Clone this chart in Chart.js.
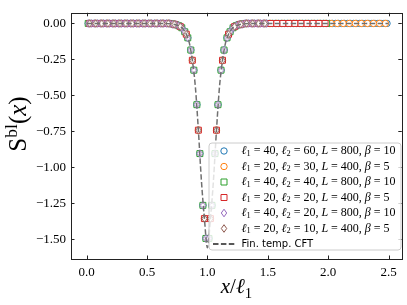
<!DOCTYPE html>
<html>
<head>
<meta charset="utf-8">
<script src="https://cdn.jsdelivr.net/npm/chart.js@4.4.1/dist/chart.umd.min.js"></script>
<style>
  html, body { margin: 0; padding: 0; background: #fff; }
  #wrap { width: 407px; height: 305px; }
</style>
</head>
<body>
<div id="wrap"><canvas id="chart" width="407" height="305"></canvas></div>
<script>
// Series parameters
const l1Vals = [40, 20, 40, 20, 40, 20];
const l2Vals = [60, 30, 40, 20, 20, 10];
const LVals = [800, 400, 800, 400, 800, 400];
const betaVals = [10, 5, 10, 5, 10, 5];
const seriesColors = ['#1f77b4', '#ff7f0e', '#2ca02c', '#d62728', '#9467bd', '#8c564b'];
const seriesMarkers = ['circle', 'circle', 'rect', 'rect', 'diamond', 'diamond'];

// S^bl, lattice with l1 = 40 (sites x = (j + 1/2) / 40)
const s40 = [
    0, 0, 0, 0, 0, 0, 0, 0, 0, 0,
    0, 0, 0, 0, 0, 0, 0, 0, 0, 0,
    0, 0, 0, 0, 0, 0, 0, 0,
    -0.004, -0.008, -0.016, -0.030, -0.058, -0.100, -0.185, -0.325, -0.565, -0.905, -1.265, -1.495,
    -1.495, -1.265, -0.905, -0.565, -0.325, -0.185, -0.100, -0.058, -0.030, -0.016, -0.008, -0.004,
    0, 0, 0, 0, 0, 0, 0, 0, 0, 0,
    0, 0, 0, 0, 0, 0, 0, 0, 0, 0,
    0, 0, 0, 0, 0, 0, 0, 0, 0, 0,
    0, 0, 0, 0, 0, 0, 0, 0, 0, 0,
    0, 0, 0, 0, 0, 0, 0, 0
];

// same for l1 = 20 (sites x = (j + 1/2) / 20)
const s20 = [
    0, 0, 0, 0, 0, 0, 0, 0, 0, 0,
    0, 0, 0, 0,
    -0.006, -0.022, -0.075, -0.256, -0.742, -1.357,
    -1.357, -0.742, -0.256, -0.075, -0.022, -0.006,
    0, 0, 0, 0, 0, 0, 0, 0, 0, 0,
    0, 0, 0, 0, 0, 0, 0, 0, 0, 0,
    0, 0, 0, 0
];

// finite temperature CFT curve
const cftX = [0, 0.5, 0.65, 0.7, 0.75, 0.775, 0.8, 0.825, 0.85, 0.875,
              0.9, 0.925, 0.95, 0.975, 1.0, 1.025, 1.05, 1.075, 1.1, 1.125,
              1.15, 1.175, 1.2, 1.225, 1.25, 1.3, 1.35, 1.5, 2.0, 2.5];
const cftY = [0, 0, -0.001, -0.003, -0.012, -0.022, -0.04, -0.075, -0.135, -0.256,
              -0.44, -0.742, -1.09, -1.357, -1.56, -1.357, -1.09, -0.742, -0.44, -0.256,
              -0.135, -0.075, -0.04, -0.022, -0.012, -0.003, -0.001, 0, 0, 0];

const xTicks = [0, 0.5, 1.0, 1.5, 2.0, 2.5];
const yTicks = [0, -0.25, -0.5, -0.75, -1.0, -1.25, -1.5];

const serif = "'Liberation Serif', 'DejaVu Serif', serif";
const sans = "'DejaVu Sans', sans-serif";

// thin diamond marker (matplotlib 'd') as a small canvas, white face
function makeDiamond(color) {
    const c = document.createElement('canvas');
    c.width = 7; c.height = 9;
    const g = c.getContext('2d');
    g.strokeStyle = color;
    g.fillStyle = '#fff';
    g.lineWidth = 1;
    g.beginPath();
    g.moveTo(3.5, 0.7); g.lineTo(6.2, 4.5); g.lineTo(3.5, 8.3); g.lineTo(0.8, 4.5);
    g.closePath();
    g.fill();
    g.stroke();
    return c;
}

// build the datasets
const datasets = [];
datasets.push({
    type: 'line',
    label: 'Fin. temp. CFT',
    data: cftX.map((x, i) => ({ x: x, y: cftY[i] })),
    borderColor: '#707070',
    borderWidth: 1.5,
    borderDash: [5.5, 2.4],
    pointRadius: 0,
    fill: false,
    cubicInterpolationMode: 'monotone',
    order: 0
});

for (let i = 0; i < l1Vals.length; i++) {
    const vals = (l1Vals[i] === 40 ? s40 : s20).slice(0, l1Vals[i] + l2Vals[i]);
    const marker = seriesMarkers[i];
    datasets.push({
        type: 'scatter',
        label: 'l1=' + l1Vals[i] + ', l2=' + l2Vals[i],
        data: vals.map((v, j) => ({ x: (j + 0.5) / l1Vals[i], y: v })),
        borderColor: seriesColors[i],
        backgroundColor: '#fff',
        borderWidth: 1,
        pointStyle: marker === 'diamond' ? makeDiamond(seriesColors[i]) : marker,
        pointRadius: marker === 'rect' ? 4.2 : 3.2,
        order: 6 - i
    });
}

// draw rich text: parts with italic / sub / sup
function drawRich(ctx, parts, x, y, size, family, align) {
    const fontFor = p => (p.it ? 'italic ' : '') + ((p.sub || p.sup) ? size * 0.7 : size) + 'px ' + (p.fam || family);
    let total = 0;
    parts.forEach(p => {
        ctx.font = fontFor(p);
        p.w = ctx.measureText(p.t).width;
        total += p.w;
    });
    let cx = align === 'center' ? x - total / 2 : x;
    parts.forEach(p => {
        ctx.font = fontFor(p);
        const dy = p.sub ? size * 0.22 : (p.sup ? -size * 0.38 : 0);
        ctx.fillText(p.t, cx, y + dy);
        cx += p.w;
    });
}

function legendParts(i) {
    return [
        { t: 'ℓ', it: true }, { t: '1', sub: true }, { t: ' = ' + l1Vals[i] + ', ' },
        { t: 'ℓ', it: true }, { t: '2', sub: true }, { t: ' = ' + l2Vals[i] + ', ' },
        { t: 'L', it: true }, { t: ' = ' + LVals[i] + ', ' },
        { t: 'β', it: true }, { t: ' = ' + betaVals[i] }
    ];
}

function drawMarker(ctx, kind, color, x, y) {
    ctx.save();
    ctx.strokeStyle = color;
    ctx.lineWidth = 1;
    ctx.beginPath();
    if (kind === 'circle') {
        ctx.arc(x, y, 3.2, 0, Math.PI * 2);
    } else if (kind === 'rect') {
        ctx.rect(x - 3, y - 3, 6, 6);
    } else {
        ctx.moveTo(x, y - 3.8); ctx.lineTo(x + 2.7, y); ctx.lineTo(x, y + 3.8); ctx.lineTo(x - 2.7, y);
        ctx.closePath();
    }
    ctx.stroke();
    ctx.restore();
}

// frame with inward ticks on all four sides, axis titles and legend
const framePlugin = {
    id: 'frame',
    afterDatasetsDraw(chart) {
        const ctx = chart.ctx;
        const a = chart.chartArea;
        const sx = chart.scales.x, sy = chart.scales.y;
        ctx.save();
        ctx.strokeStyle = '#222';
        ctx.lineWidth = 1;
        ctx.beginPath();
        xTicks.forEach(v => {
            const px = Math.round(sx.getPixelForValue(v)) + 0.5;
            ctx.moveTo(px, a.bottom); ctx.lineTo(px, a.bottom - 3.5);
            ctx.moveTo(px, a.top); ctx.lineTo(px, a.top + 3.5);
        });
        yTicks.forEach(v => {
            const py = Math.round(sy.getPixelForValue(v)) + 0.5;
            ctx.moveTo(a.left, py); ctx.lineTo(a.left + 3.5, py);
            ctx.moveTo(a.right, py); ctx.lineTo(a.right - 3.5, py);
        });
        ctx.stroke();
        ctx.strokeRect(Math.round(a.left) + 0.5, Math.round(a.top) + 0.5,
                       Math.round(a.right - a.left), Math.round(a.bottom - a.top));
        ctx.restore();
    },
    afterDraw(chart) {
        const ctx = chart.ctx;
        const a = chart.chartArea;
        ctx.save();
        ctx.fillStyle = '#000';
        ctx.textBaseline = 'alphabetic';

        // x axis title
        drawRich(ctx, [
            { t: 'x', it: true }, { t: '/' }, { t: 'ℓ', it: true }, { t: '1', sub: true }
        ], (a.left + a.right) / 2, 293, 21, serif, 'center');

        // y axis title, rotated
        ctx.save();
        ctx.translate(26, 124);
        ctx.rotate(-Math.PI / 2);
        drawRich(ctx, [
            { t: 'S' }, { t: 'bl', sup: true }, { t: '(' }, { t: 'x', it: true }, { t: ')' }
        ], 0, 0, 25, serif, 'center');
        ctx.restore();

        // legend box
        const bx = 209, by = 143, bw = 192, bh = 107, r = 3;
        ctx.beginPath();
        ctx.moveTo(bx + r, by);
        ctx.arcTo(bx + bw, by, bx + bw, by + bh, r);
        ctx.arcTo(bx + bw, by + bh, bx, by + bh, r);
        ctx.arcTo(bx, by + bh, bx, by, r);
        ctx.arcTo(bx, by, bx + bw, by, r);
        ctx.closePath();
        ctx.fillStyle = 'rgba(255,255,255,0.8)';
        ctx.fill();
        ctx.strokeStyle = '#cccccc';
        ctx.lineWidth = 1;
        ctx.stroke();

        ctx.fillStyle = '#000';
        ctx.textBaseline = 'middle';
        const rowStep = 15.5;
        for (let i = 0; i < l1Vals.length; i++) {
            const y = 151 + i * rowStep;
            drawMarker(ctx, seriesMarkers[i], seriesColors[i], 224, y);
            drawRich(ctx, legendParts(i), 241.5, y, 12, serif, 'left');
        }
        const yc = 151 + 6 * rowStep;
        ctx.save();
        ctx.strokeStyle = '#222';
        ctx.lineWidth = 1.5;
        ctx.setLineDash([5.5, 2.4]);
        ctx.beginPath();
        ctx.moveTo(213, yc); ctx.lineTo(235, yc);
        ctx.stroke();
        ctx.restore();
        ctx.font = '10px ' + sans;
        ctx.fillText('Fin. temp. CFT', 241.5, yc);
        ctx.restore();
    }
};

const fmtTick = (v, d) => (v < 0 ? '\u2212' : '') + Math.abs(v).toFixed(d);

new Chart(document.getElementById('chart'), {
    data: { datasets: datasets },
    options: {
        responsive: false,
        animation: false,
        layout: { padding: { top: 3, right: 4, left: 0, bottom: 0 } },
        plugins: {
            legend: { display: false },
            tooltip: { enabled: false }
        },
        scales: {
            x: {
                type: 'linear',
                min: -0.13,
                max: 2.61,
                afterBuildTicks: s => { s.ticks = xTicks.map(v => ({ value: v })); },
                afterFit: s => { s.height = 46; },
                grid: { display: false, drawTicks: false },
                border: { display: false },
                ticks: {
                    autoSkip: false,
                    maxRotation: 0,
                    padding: 6,
                    color: '#000',
                    font: { family: serif, size: 13 },
                    callback: v => fmtTick(v, 1)
                }
            },
            y: {
                type: 'linear',
                min: -1.638,
                max: 0.074,
                afterBuildTicks: s => { s.ticks = yTicks.map(v => ({ value: v })); },
                afterFit: s => { s.width = 71; },
                grid: { display: false, drawTicks: false },
                border: { display: false },
                ticks: {
                    autoSkip: false,
                    padding: 5,
                    color: '#000',
                    font: { family: serif, size: 13 },
                    callback: v => fmtTick(v, 2)
                }
            }
        }
    },
    plugins: [framePlugin]
});
</script>
</body>
</html>
